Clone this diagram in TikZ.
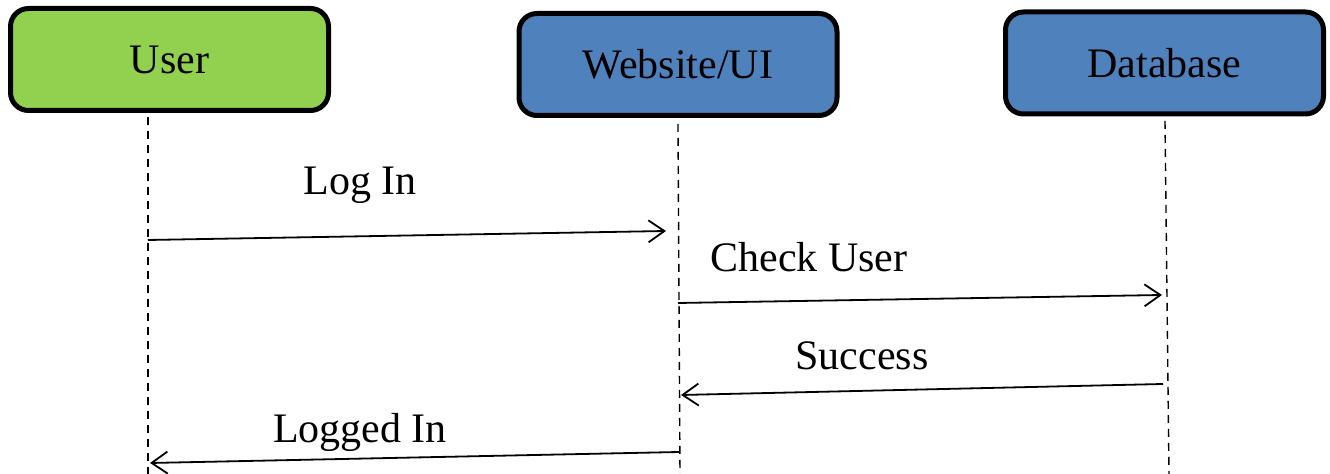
\documentclass[tikz,border=0pt]{standalone}
\usepackage{fontspec}
\setmainfont{Liberation Serif}
\usetikzlibrary{arrows.meta}
\definecolor{usergreen}{HTML}{92D050}
\definecolor{sysblue}{HTML}{4F81BD}
\begin{document}
\begin{tikzpicture}[x=0.5pt,y=-0.5pt,
  actor/.style={draw=black,line width=2.5pt,rounded corners=9pt,
    minimum width=159pt,minimum height=51pt,inner sep=0pt,
    font=\fontsize{21}{25}\selectfont},
  life/.style={draw=black,line width=0.7pt,dash pattern=on 4pt off 3pt},
  msg/.style={draw=black,line width=0.9pt,-{Straight Barb[length=8pt,width=11pt,line width=0.9pt]}},
  lbl/.style={font=\fontsize{21}{25}\selectfont,inner sep=0pt}]
\useasboundingbox (0,0) rectangle (1330,474);
\node[actor,fill=usergreen] (user) at (169.5,59.5) {User};
\node[actor,fill=sysblue] (web) at (678,64.5) {Website/UI};
\node[actor,fill=sysblue] (db) at (1164.5,63) {Database};
% lifeline ends
\coordinate (utop) at (148,117);
\coordinate (ubot) at (148,474);
\coordinate (wtop) at (678,124);
\coordinate (wbot) at (680,474);
\coordinate (dtop) at (1165,121);
\coordinate (dbot) at (1169,474);
\draw[life] (utop) -- (ubot);
\draw[life] (wtop) -- (wbot);
\draw[life] (dtop) -- (dbot);
% message ends
\coordinate (m1s) at (148,240);
\coordinate (m1e) at (666,231);
\coordinate (m2s) at (678,303);
\coordinate (m2e) at (1162,295);
\coordinate (m3s) at (1163,384);
\coordinate (m3e) at (681,395);
\coordinate (m4s) at (679,452);
\coordinate (m4e) at (150,463);
\draw[msg] (m1s) -- (m1e);
\draw[msg] (m2s) -- (m2e);
\draw[msg] (m3s) -- (m3e);
\draw[msg] (m4s) -- (m4e);
\node[lbl] (l1) at (360,185) {Log In};
\node[lbl] (l2) at (809,257) {Check User};
\node[lbl] (l3) at (862,356) {Success};
\node[lbl] (l4) at (360,432) {Logged In};
\end{tikzpicture}
\end{document}
